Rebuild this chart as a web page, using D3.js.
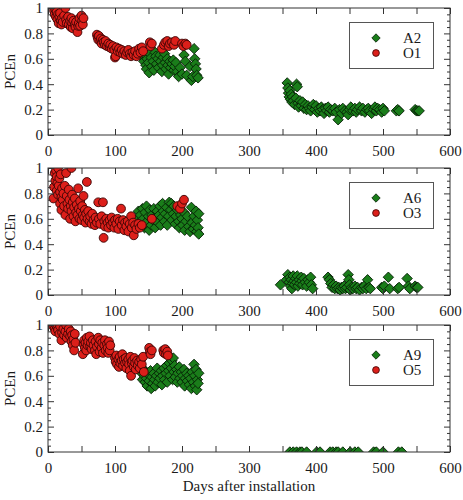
<!DOCTYPE html>
<html><head><meta charset="utf-8">
<script src="https://cdn.jsdelivr.net/npm/d3@7"></script>
<style>body{margin:0;background:#fff}svg{display:block}svg text{font-family:"Liberation Serif","Times New Roman",serif !important;fill:#1a1a1a}</style>
</head><body><svg id="c" width="463" height="500"></svg>
<script>
// ---------- data (day, normalised PCE) ----------
const xTicks = [0,100,200,300,400,500,600];
const yTicks = [0,0.2,0.4,0.6,0.8,1];
const panelNames = [["A2","O1"],["A6","O3"],["A9","O5"]];

const O1 = [[9,0.98],[10,0.95],[11,0.99],[12,0.93],[13,0.97],[14,0.91],[15,0.95],[16,0.88],[17,0.93],[18,0.96],[19,0.90],[20,0.87],[21,0.92],[22,0.89],[24,0.94],[26,1.0],[27,0.91],[28,0.88],[30,0.93],[31,0.87],[33,0.90],[34,0.85],[35,0.92],[36,0.88],[37,0.84],[38,0.90],[40,0.87],[41,0.85],[42,0.89],[44,0.81],[45,0.86],[46,0.88],[47,0.92],[48,0.86],[50,0.94],[51,0.90],[52,0.87],[53,0.92],
[73,0.79],[74,0.77],[75,0.75],[76,0.78],[78,0.74],[79,0.76],[80,0.72],[82,0.75],[83,0.73],[85,0.71],[86,0.74],[88,0.70],[90,0.72],[92,0.69],[93,0.71],[95,0.68],[97,0.70],[99,0.67],[100,0.61],[101,0.62],[102,0.69],[104,0.66],[106,0.68],[108,0.65],[110,0.67],[112,0.64],[114,0.66],[116,0.63],[118,0.65],[120,0.67],[122,0.64],[124,0.62],[126,0.65],[128,0.63],[130,0.66],[132,0.62],[134,0.64],[136,0.68],[138,0.65],[140,0.69],[142,0.66],
[152,0.73],[153,0.70],[155,0.72],[170,0.68],[173,0.71],[175,0.73],[178,0.74],[180,0.70],[182,0.72],[185,0.73],[188,0.71],[190,0.74],[200,0.72],[202,0.70],[205,0.72],[207,0.71]];

const A2 = [[140,0.62],[142,0.66],[143,0.58],[145,0.63],[146,0.55],[147,0.52],[148,0.60],[150,0.57],[151,0.49],[152,0.64],[154,0.61],[155,0.54],[157,0.58],[158,0.51],[160,0.65],[161,0.62],[162,0.56],[164,0.60],[165,0.53],[167,0.63],[168,0.58],[170,0.50],[171,0.55],[172,0.61],[174,0.64],[175,0.57],[176,0.52],[178,0.60],[179,0.55],[180,0.48],[182,0.58],[183,0.53],[185,0.56],[187,0.59],[188,0.51],[189,0.54],[191,0.57],[193,0.50],[195,0.46],[197,0.53],[200,0.48],[203,0.63],[205,0.58],[207,0.47],[212,0.54],[214,0.43],[216,0.46],[218,0.68],[219,0.60],[220,0.56],[221,0.52],[222,0.47],[224,0.45],
[357,0.41],[358,0.37],[359,0.33],[360,0.30],[361,0.35],[362,0.28],[363,0.32],[364,0.26],[365,0.30],[366,0.27],[368,0.24],[370,0.29],[371,0.40],[372,0.38],[373,0.25],[374,0.22],[376,0.27],[378,0.23],[380,0.26],[382,0.21],[384,0.24],[386,0.20],[388,0.23],[390,0.21],[392,0.19],[394,0.22],[396,0.24],[398,0.20],[400,0.23],[402,0.18],[404,0.21],[406,0.19],[408,0.22],[410,0.20],[412,0.17],[414,0.21],[416,0.19],[418,0.22],[420,0.18],[422,0.20],[425,0.19],[428,0.21],[430,0.18],[433,0.12],[435,0.20],[438,0.17],[440,0.21],[443,0.19],[446,0.18],[448,0.16],[450,0.20],[452,0.22],[455,0.19],[458,0.21],[460,0.18],[462,0.20],[465,0.22],[468,0.19],[470,0.21],[473,0.18],[476,0.20],[478,0.21],[480,0.19],[483,0.17],[486,0.20],[488,0.22],[490,0.19],[492,0.21],[495,0.20],[498,0.18],[500,0.21],[502,0.19],[520,0.19],[522,0.20],[524,0.19],[548,0.20],[550,0.19],[552,0.19],[554,0.19]];

const O3 = [[8,0.76],[9,0.85],[10,0.96],[11,0.90],[12,0.98],[13,0.93],[13,0.82],[14,0.88],[15,1.0],[15,0.79],[16,0.86],[17,0.92],[18,0.72],[18,0.81],[19,0.95],[20,0.67],[20,0.77],[21,0.84],[22,0.75],[23,0.80],[24,0.70],[25,0.86],[26,0.63],[27,0.96],[28,0.78],[29,0.72],[30,0.68],[31,0.83],[32,0.75],[33,0.60],[34,0.70],[35,1.0],[35,0.66],[36,0.79],[37,0.73],[38,0.62],[39,0.69],[40,0.76],[41,0.58],[42,0.65],[43,0.71],[44,0.63],[45,0.84],[46,0.68],[47,0.60],[48,0.74],[49,0.66],[50,0.59],[51,0.70],[52,0.63],[53,0.78],[54,0.61],[55,0.67],[56,0.57],[57,0.64],[58,0.89],[59,0.60],[60,0.66],[62,0.58],[63,0.62],[65,0.56],[66,0.64],[68,0.59],[70,0.55],[71,0.61],[73,0.57],[75,0.73],[76,0.60],[78,0.56],[80,0.62],[82,0.73],[83,0.45],[84,0.58],[85,0.54],[87,0.60],[89,0.57],[90,0.53],[92,0.59],[94,0.55],[95,0.61],[97,0.57],[99,0.53],[100,0.59],[102,0.56],[104,0.60],[105,0.52],[107,0.58],[109,0.68],[110,0.55],[112,0.59],[114,0.51],[115,0.57],[117,0.54],[119,0.58],[120,0.50],[122,0.56],[124,0.62],[125,0.53],[127,0.57],[128,0.47],[130,0.55],[132,0.52],[135,0.56],[137,0.53],[140,0.55],
[155,0.60],[193,0.70],[197,0.68],[200,0.72],[203,0.75]];

const A6 = [[133,0.60],[135,0.66],[136,0.57],[138,0.63],[139,0.55],[141,0.68],[142,0.60],[144,0.53],[145,0.65],[147,0.70],[148,0.58],[150,0.62],[151,0.51],[152,0.67],[154,0.55],[155,0.63],[157,0.59],[158,0.68],[160,0.53],[161,0.61],[163,0.66],[164,0.57],[166,0.63],[167,0.70],[168,0.55],[170,0.61],[171,0.72],[172,0.66],[174,0.58],[175,0.64],[177,0.69],[178,0.55],[180,0.62],[181,0.73],[183,0.67],[184,0.72],[185,0.59],[187,0.64],[188,0.70],[190,0.56],[191,0.62],[193,0.67],[195,0.58],[196,0.53],[198,0.63],[200,0.60],[201,0.55],[203,0.65],[204,0.51],[206,0.58],[208,0.62],[210,0.54],[212,0.50],[214,0.69],[215,0.57],[217,0.52],[218,0.62],[220,0.55],[221,0.66],[222,0.50],[223,0.59],[224,0.53],[225,0.64],[225,0.48],
[347,0.08],[356,0.12],[358,0.16],[360,0.10],[361,0.14],[362,0.07],[363,0.12],[364,0.05],[365,0.09],[366,0.15],[367,0.11],[368,0.08],[370,0.13],[371,0.10],[372,0.15],[373,0.07],[375,0.12],[376,0.09],[378,0.14],[379,0.11],[380,0.08],[382,0.13],[384,0.10],[386,0.07],[388,0.12],[390,0.10],[392,0.14],[393,0.08],[395,0.05],[418,0.14],[420,0.12],[422,0.09],[424,0.06],[426,0.08],[428,0.05],[430,0.07],[432,0.05],[434,0.06],[436,0.04],[438,0.06],[440,0.05],[442,0.07],[444,0.05],[446,0.06],[448,0.16],[449,0.12],[450,0.08],[451,0.04],[453,0.06],[455,0.05],[458,0.07],[460,0.05],[462,0.06],[465,0.04],[468,0.06],[470,0.05],[472,0.07],[475,0.05],[477,0.12],[479,0.06],[481,0.05],[498,0.06],[500,0.05],[502,0.07],[508,0.14],[510,0.05],[522,0.05],[524,0.06],[536,0.13],[538,0.07],[540,0.05],[548,0.07],[550,0.06],[552,0.06]];

const O5 = [[8,0.99],[10,0.97],[11,0.95],[12,1.0],[14,0.98],[15,0.96],[17,0.93],[18,0.99],[20,0.88],[21,0.94],[23,0.97],[24,0.92],[26,0.95],[27,1.0],[28,0.90],[30,0.93],[31,0.97],[33,0.91],[34,0.95],[35,0.87],[36,0.92],[37,0.84],[38,0.89],[39,0.80],[40,0.93],[41,0.86],
[52,0.77],[53,0.85],[54,0.88],[55,0.82],[56,0.86],[57,0.80],[58,0.90],[59,0.84],[60,0.87],[62,0.91],[63,0.83],[64,0.86],[65,0.81],[67,0.88],[68,0.84],[70,0.80],[71,0.87],[72,0.77],[73,0.83],[75,0.90],[76,0.85],[77,0.79],[78,0.88],[80,0.82],[81,0.86],[82,0.78],[84,0.84],[85,0.88],[86,0.80],[88,0.85],[89,0.82],[90,0.78],[91,0.87],[92,0.80],[93,0.84],
[100,0.74],[101,0.71],[102,0.76],[103,0.69],[105,0.73],[106,0.67],[107,0.75],[108,0.70],[110,0.72],[111,0.77],[112,0.68],[113,0.73],[115,0.70],[116,0.74],[117,0.66],[118,0.71],[120,0.73],[121,0.69],[122,0.64],[123,0.75],[124,0.60],[125,0.70],[126,0.72],[128,0.67],[129,0.74],[130,0.70],[131,0.65],[133,0.72],[134,0.68],[136,0.71],[137,0.66],[139,0.73],[140,0.69],[142,0.75],[143,0.63],
[151,0.82],[152,0.79],[153,0.77],[155,0.80],[172,0.80],[173,0.78],[175,0.81],[176,0.77],[178,0.79],[179,0.76]];

const A9 = [[140,0.62],[141,0.57],[143,0.65],[144,0.60],[145,0.55],[146,0.63],[147,0.58],[148,0.52],[150,0.61],[151,0.56],[153,0.64],[154,0.50],[155,0.59],[156,0.54],[158,0.62],[159,0.57],[160,0.52],[162,0.60],[163,0.66],[164,0.55],[166,0.62],[167,0.58],[169,0.64],[170,0.53],[171,0.60],[173,0.66],[174,0.57],[176,0.62],[177,0.68],[178,0.55],[180,0.64],[181,0.70],[182,0.60],[184,0.66],[185,0.72],[186,0.57],[187,0.74],[188,0.63],[189,0.68],[190,0.59],[192,0.65],[193,0.55],[194,0.62],[196,0.67],[197,0.58],[199,0.63],[200,0.55],[201,0.60],[203,0.65],[204,0.52],[205,0.58],[207,0.62],[208,0.56],[210,0.60],[211,0.53],[213,0.58],[214,0.50],[215,0.63],[217,0.55],[218,0.69],[219,0.60],[220,0.52],[221,0.65],[222,0.49],[223,0.57],[224,0.54],[225,0.62],
[361,0],[366,0],[371,0],[376,0],[379,0],[386,0],[401,0],[406,0],[421,0],[425,0],[430,0],[433,0],[440,0],[451,0],[458,0],[463,0],[486,0],[490,0],[500,0],[523,0],[528,0]];

const panelSeries = [[A2,O1],[A6,O3],[A9,O5]];

// ---------- drawing ----------
const svg = d3.select("#c");
const L = 48, R = 450, H = 127;
const tops = [8, 168, 325];
const x = d3.scaleLinear().domain([0,600]).range([L,R]);
const GREEN = "#1a7d1a", GSTROKE = "#061f06", RED = "#dc1f1a", RSTROKE = "#3a0504";
const FONT = '"Liberation Serif","Times New Roman",serif';

function diamondPath(s){ return `M0,${-s}L${s},0L0,${s}L${-s},0Z`; }

tops.forEach((top, i) => {
  const y = d3.scaleLinear().domain([0,1]).range([top+H, top]);
  const g = svg.append("g");
  const cid = "clip"+i;
  svg.append("clipPath").attr("id",cid).append("rect").attr("x",L).attr("y",top).attr("width",R-L).attr("height",H);

  const marks = g.append("g").attr("clip-path",`url(#${cid})`);
  const [gs, rs] = panelSeries[i];
  marks.selectAll("path.g").data(gs).join("path")
    .attr("d", diamondPath(5.2))
    .attr("transform", d => `translate(${x(d[0])},${y(d[1])})`)
    .attr("fill", GREEN).attr("stroke", GSTROKE).attr("stroke-width",0.9);
  marks.selectAll("circle.r").data(rs).join("circle")
    .attr("cx", d => x(d[0])).attr("cy", d => y(d[1])).attr("r", 4.4)
    .attr("fill", RED).attr("stroke", RSTROKE).attr("stroke-width",0.9);

  // axes
  const minorX = d3.range(50,600,100);
  const minorY = d3.range(0,1.0001,0.05).filter(v => Math.abs(v*5 - Math.round(v*5)) > 1e-6);
  const ax = (gen, tr) => { const a = g.append("g").attr("transform", tr).call(gen);
      a.attr("font-family", null).attr("font-size", null);
      a.select(".domain").remove(); a.selectAll("line").attr("stroke","#333");
      a.selectAll("text").style("font-family", FONT).style("font-size","15px").attr("fill","#1a1a1a");
      return a; };
  ax(d3.axisBottom(x).tickValues(xTicks).tickSize(-6).tickPadding(10).tickFormat(d3.format("d")), `translate(0,${top+H})`);
  ax(d3.axisBottom(x).tickValues(minorX).tickSize(-6).tickFormat(""), `translate(0,${top+H})`);
  ax(d3.axisTop(x).tickValues(xTicks.concat(minorX)).tickSize(-6).tickFormat(""), `translate(0,${top})`);
  ax(d3.axisLeft(y).tickValues(yTicks).tickSize(-6).tickPadding(5).tickFormat(d => d===0||d===1 ? d3.format("d")(d) : d3.format(".1f")(d)), `translate(${L},0)`);
  ax(d3.axisLeft(y).tickValues(minorY).tickSize(-3).tickFormat(""), `translate(${L},0)`);
  ax(d3.axisRight(y).tickValues(yTicks).tickSize(-6).tickFormat(""), `translate(${R},0)`);
  ax(d3.axisRight(y).tickValues(minorY).tickSize(-3).tickFormat(""), `translate(${R},0)`);

  g.append("rect").attr("x",L).attr("y",top).attr("width",R-L).attr("height",H)
    .attr("fill","none").attr("stroke","#333").attr("stroke-width",1);

  // y label
  g.append("text").attr("transform",`translate(15,${top+H/2}) rotate(-90)`)
    .attr("text-anchor","middle").style("font-size","15px").text("PCEn");

  // legend
  const lg = g.append("g");
  lg.append("rect").attr("x",349.5).attr("y",top+14.5).attr("width",84).attr("height",46)
    .attr("fill","#fff").attr("stroke","#555").attr("stroke-width",1);
  lg.append("path").attr("d",diamondPath(4.2)).attr("transform",`translate(376,${top+30})`)
    .attr("fill",GREEN).attr("stroke",GSTROKE).attr("stroke-width",0.8);
  lg.append("circle").attr("cx",376).attr("cy",top+45).attr("r",3.4)
    .attr("fill",RED).attr("stroke",RSTROKE).attr("stroke-width",0.8);
  lg.append("text").attr("x",403).attr("y",top+30).attr("dy","0.35em").style("font-size","15px").text(panelNames[i][0]);
  lg.append("text").attr("x",403).attr("y",top+45).attr("dy","0.35em").style("font-size","15px").text(panelNames[i][1]);
});

svg.append("text").attr("x",249).attr("y",491).attr("text-anchor","middle").style("font-size","15px")
  .text("Days after installation");
</script></body></html>
